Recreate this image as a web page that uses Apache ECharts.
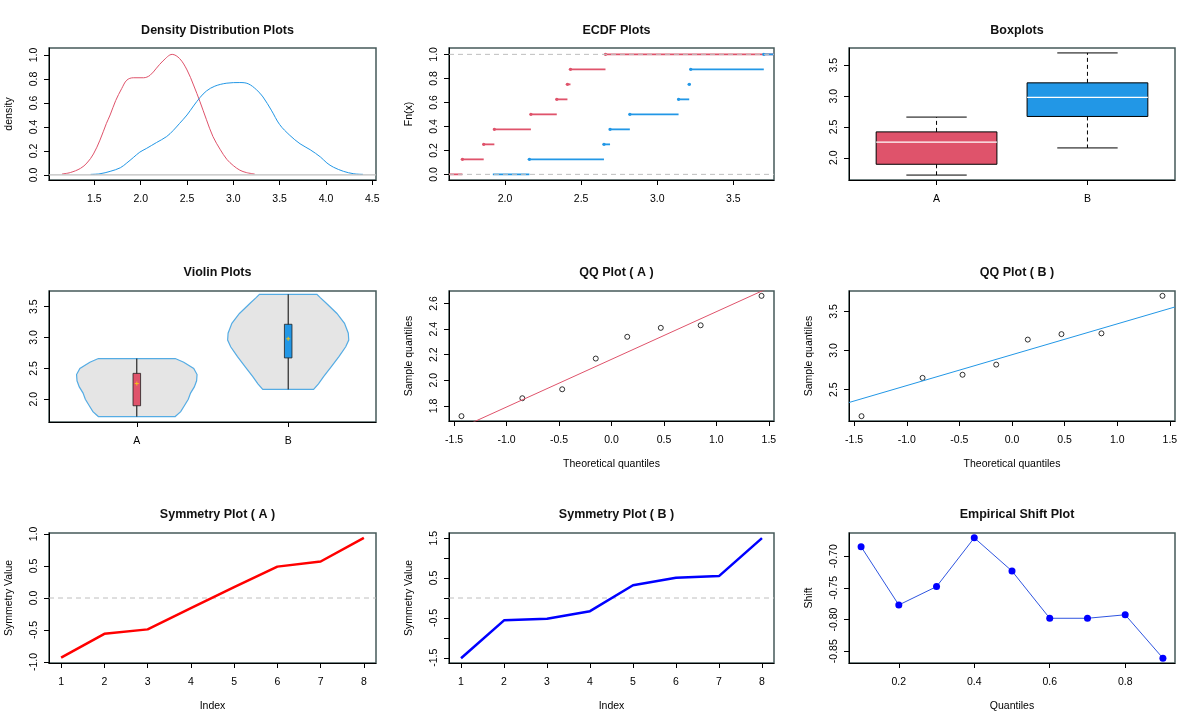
<!DOCTYPE html>
<html>
<head>
<meta charset="utf-8">
<title>Distribution plots A vs B</title>
<script src="https://cdn.jsdelivr.net/npm/echarts@6.0.0/dist/echarts.min.js"></script>
<style>
  html, body { margin: 0; padding: 0; background: #fff; }
  #main { width: 1200px; height: 725px; }
</style>
</head>
<body>
<div id="main"></div>
<script>
const sampleA = [1.72, 1.86, 1.93, 2.17, 2.34, 2.41, 2.43, 2.66];
const sampleB = [2.16, 2.65, 2.69, 2.82, 3.14, 3.21, 3.22, 3.70];
const groupNames = ['A', 'B'];

// density curves (x, y)
const densAx = [1.15, 1.24, 1.35, 1.42, 1.49, 1.56, 1.63, 1.67, 1.73, 1.795, 1.85, 1.92, 2.03, 2.1, 2.17, 2.24, 2.34, 2.42, 2.5, 2.57, 2.64, 2.71, 2.78, 2.86, 2.93, 3.0, 3.07, 3.14, 3.23];
const densAy = [0.008, 0.02, 0.055, 0.1, 0.175, 0.29, 0.43, 0.5, 0.62, 0.72, 0.79, 0.81, 0.81, 0.83, 0.89, 0.95, 1.005, 0.97, 0.875, 0.75, 0.61, 0.46, 0.32, 0.21, 0.13, 0.078, 0.04, 0.02, 0.008];
const densBx = [1.46, 1.56, 1.67, 1.78, 1.85, 1.92, 1.99, 2.06, 2.17, 2.28, 2.35, 2.42, 2.5, 2.57, 2.64, 2.71, 2.8, 2.93, 3.07, 3.16, 3.25, 3.32, 3.41, 3.5, 3.61, 3.72, 3.83, 3.94, 4.01, 4.08, 4.19, 4.3, 4.4];
const densBy = [0.005, 0.01, 0.03, 0.06, 0.1, 0.145, 0.19, 0.22, 0.27, 0.32, 0.37, 0.43, 0.5, 0.575, 0.645, 0.7, 0.74, 0.765, 0.77, 0.76, 0.71, 0.65, 0.54, 0.42, 0.33, 0.26, 0.21, 0.15, 0.1, 0.065, 0.03, 0.01, 0.005];

// ECDF: start of the blue zero-level segment
const ecdfBZeroStart = 1.92;

// boxplot stats: min, Q1, median, Q3, max
const boxA = [1.72, 1.895, 2.255, 2.42, 2.66];
const boxB = [2.16, 2.67, 2.98, 3.215, 3.70];

// violin outlines: y levels and half widths
const violinAy = [1.72, 1.80, 1.90, 2.00, 2.10, 2.20, 2.30, 2.40, 2.50, 2.60, 2.66];
const violinAw = [0.254, 0.29, 0.315, 0.34, 0.355, 0.38, 0.395, 0.398, 0.376, 0.31, 0.254];
const violinBy = [2.16, 2.25, 2.37, 2.53, 2.69, 2.85, 2.96, 3.07, 3.23, 3.39, 3.56, 3.65, 3.70];
const violinBw = [0.168, 0.20, 0.235, 0.285, 0.335, 0.38, 0.40, 0.397, 0.372, 0.322, 0.25, 0.21, 0.19];

// QQ plots
const qqTheo = [-1.43, -0.85, -0.47, -0.15, 0.15, 0.47, 0.85, 1.43];
const qqLineA = [[-1.549, 1.587], [1.549, 2.741]];
const qqLineB = [[-1.549, 2.335], [1.549, 3.558]];

// symmetry plots
const symIndex = [1, 2, 3, 4, 5, 6, 7, 8];
const symA = [-0.93, -0.56, -0.49, -0.16, 0.17, 0.49, 0.57, 0.94];
const symB = [-1.51, -0.56, -0.52, -0.33, 0.32, 0.51, 0.55, 1.50];

// empirical shift
const shiftQ = [0.1, 0.2, 0.3, 0.4, 0.5, 0.6, 0.7, 0.8, 0.9];
const shiftV = [-0.685, -0.777, -0.748, -0.671, -0.7235, -0.798, -0.798, -0.7925, -0.861];

// tick labels
const ticksDensX = [1.5, 2.0, 2.5, 3.0, 3.5, 4.0, 4.5];
const ticksProb = [0, 0.2, 0.4, 0.6, 0.8, 1.0];
const ticksEcdfX = [2.0, 2.5, 3.0, 3.5];
const ticksGroupY = [2.0, 2.5, 3.0, 3.5];
const ticksTheo = [-1.5, -1.0, -0.5, 0, 0.5, 1.0, 1.5];
const ticksQqAy = [1.8, 2.0, 2.2, 2.4, 2.6];
const ticksQqBy = [2.5, 3.0, 3.5];
const ticksSymAy = [-1.0, -0.5, 0, 0.5, 1.0];
const ticksSymBy = [-1.5, -1.0, -0.5, 0, 0.5, 1.0, 1.5];
const labelsSymBy = [-1.5, -0.5, 0.5, 1.5];
const ticksShiftX = [0.2, 0.4, 0.6, 0.8];
const ticksShiftY = [-0.85, -0.80, -0.75, -0.70];

const RED = '#DF536B';
const BLUE = '#2297E6';
const FONT = '"Liberation Sans", Arial, sans-serif';

const zip = (xs, ys) => xs.map((x, i) => [x, ys[i]]);
const f1 = v => v.toFixed(1);
const f2 = v => v.toFixed(2);

const grids = [
  [49, 48, 327, 132], [449, 48, 325, 132], [849, 48, 326, 132],
  [49, 291, 327, 131], [449, 291, 325, 130], [849, 291, 326, 130],
  [49, 533, 327, 130], [449, 533, 325, 130], [849, 533, 326, 130]
];
const titles = ['Density Distribution Plots', 'ECDF Plots', 'Boxplots',
  'Violin Plots', 'QQ Plot ( A )', 'QQ Plot ( B )',
  'Symmetry Plot ( A )', 'Symmetry Plot ( B )', 'Empirical Shift Plot'];
const titleTops = [19, 261, 503];

function xAxisOf(i, min, max, ticks, fmt, name, labels) {
  return {
    type: 'value', gridIndex: i, min: min, max: max,
    name: name || '', nameLocation: 'middle', nameGap: 38,
    nameTextStyle: { fontFamily: FONT, fontSize: 10.5, color: '#000' },
    axisLine: { show: true, onZero: false, lineStyle: { color: '#000', width: 1 } },
    axisTick: { show: true, length: 5, customValues: ticks, lineStyle: { color: '#000' } },
    axisLabel: { customValues: labels || ticks, formatter: fmt, margin: 14,
      fontFamily: FONT, fontSize: 10.5, color: '#000' },
    splitLine: { show: false }
  };
}

function yAxisOf(i, min, max, ticks, fmt, name, labels) {
  return {
    type: 'value', gridIndex: i, min: min, max: max,
    name: name || '', nameLocation: 'middle', nameGap: 34, nameRotate: 90,
    nameTextStyle: { fontFamily: FONT, fontSize: 10.5, color: '#000' },
    axisLine: { show: true, onZero: false, lineStyle: { color: '#000', width: 1 } },
    axisTick: { show: true, length: 5, customValues: ticks, lineStyle: { color: '#000' } },
    axisLabel: { customValues: labels || ticks, formatter: fmt, rotate: 90, margin: 9,
      fontFamily: FONT, fontSize: 10.5, color: '#000' },
    splitLine: { show: false }
  };
}

// ECDF segments: [x0, x1, level, showPoint]
function ecdfSegments(s, zeroStart, xMax) {
  const n = s.length;
  const segs = [[zeroStart, s[0], 0, 0]];
  for (let i = 0; i < n; i++) {
    segs.push([s[i], i < n - 1 ? s[i + 1] : xMax, (i + 1) / n, 1]);
  }
  return segs;
}

function ecdfRender(color) {
  return function (params, api) {
    const y = api.value(2);
    const p0 = api.coord([api.value(0), y]);
    const p1 = api.coord([api.value(1), y]);
    const kids = [{ type: 'line', shape: { x1: p0[0], y1: p0[1], x2: p1[0], y2: p1[1] },
      style: { stroke: color, lineWidth: 1.8 } }];
    if (api.value(3)) {
      kids.push({ type: 'circle', shape: { cx: p0[0], cy: p0[1], r: 1.7 }, style: { fill: color } });
    }
    return { type: 'group', children: kids };
  };
}

const boxColors = [RED, BLUE];
function boxRender(params, api) {
  const x = api.value(0);
  const v = [1, 2, 3, 4, 5].map(k => api.value(k));
  const tl = api.coord([x - 0.4, v[3]]);
  const br = api.coord([x + 0.4, v[1]]);
  const ln = (a, b, st) => ({ type: 'line', shape: { x1: a[0], y1: a[1], x2: b[0], y2: b[1] }, style: st });
  const solid = { stroke: '#000', lineWidth: 1 };
  const dash = { stroke: '#000', lineWidth: 1, lineDash: [4, 3] };
  return { type: 'group', children: [
    ln(api.coord([x, v[3]]), api.coord([x, v[4]]), dash),
    ln(api.coord([x, v[1]]), api.coord([x, v[0]]), dash),
    ln(api.coord([x - 0.2, v[4]]), api.coord([x + 0.2, v[4]]), solid),
    ln(api.coord([x - 0.2, v[0]]), api.coord([x + 0.2, v[0]]), solid),
    { type: 'rect', shape: { x: tl[0], y: tl[1], width: br[0] - tl[0], height: br[1] - tl[1] },
      style: { fill: boxColors[params.dataIndex], stroke: '#000', lineWidth: 1 } },
    ln(api.coord([x - 0.4, v[2]]), api.coord([x + 0.4, v[2]]), { stroke: '#fff', lineWidth: 1.2 })
  ] };
}

const violinShapes = [[violinAy, violinAw], [violinBy, violinBw]];
const violinStats = [boxA, boxB];
function violinRender(params, api) {
  const c = api.value(0);
  const idx = params.dataIndex;
  const ys = violinShapes[idx][0], ws = violinShapes[idx][1];
  const pts = [];
  for (let k = 0; k < ys.length; k++) pts.push(api.coord([c + ws[k], ys[k]]));
  for (let k = ys.length - 1; k >= 0; k--) pts.push(api.coord([c - ws[k], ys[k]]));
  const st = violinStats[idx];
  const tl = api.coord([c - 0.025, st[3]]);
  const br = api.coord([c + 0.025, st[1]]);
  const lo = api.coord([c, st[0]]), hi = api.coord([c, st[4]]);
  const md = api.coord([c, st[2]]);
  return { type: 'group', children: [
    { type: 'polygon', shape: { points: pts }, style: { fill: '#e5e5e5', stroke: '#55ace4', lineWidth: 1.2 } },
    { type: 'line', shape: { x1: lo[0], y1: lo[1], x2: hi[0], y2: hi[1] }, style: { stroke: '#000', lineWidth: 1 } },
    { type: 'rect', shape: { x: tl[0], y: tl[1], width: br[0] - tl[0], height: br[1] - tl[1] },
      style: { fill: boxColors[idx], stroke: '#222', lineWidth: 0.8 } },
    { type: 'line', shape: { x1: md[0] - 2, y1: md[1], x2: md[0] + 2, y2: md[1] }, style: { stroke: '#f2c21b', lineWidth: 1 } },
    { type: 'line', shape: { x1: md[0], y1: md[1] - 2, x2: md[0], y2: md[1] + 2 }, style: { stroke: '#f2c21b', lineWidth: 1 } }
  ] };
}

const groupFmt = v => groupNames[Math.round(v) - 1];
const intFmt = v => String(v);

const xAxes = [
  xAxisOf(0, 1.01, 4.54, ticksDensX, f1),
  xAxisOf(1, 1.632, 3.767, ticksEcdfX, f1),
  xAxisOf(2, 0.42, 2.58, [1, 2], groupFmt),
  xAxisOf(3, 0.42, 2.58, [1, 2], groupFmt),
  xAxisOf(4, -1.549, 1.549, ticksTheo, f1, 'Theoretical quantiles'),
  xAxisOf(5, -1.549, 1.549, ticksTheo, f1, 'Theoretical quantiles'),
  xAxisOf(6, 0.72, 8.28, symIndex, intFmt, 'Index'),
  xAxisOf(7, 0.72, 8.28, symIndex, intFmt, 'Index'),
  xAxisOf(8, 0.068, 0.932, ticksShiftX, f1, 'Quantiles')
];
const yAxes = [
  yAxisOf(0, -0.042, 1.058, ticksProb, f1, 'density'),
  yAxisOf(1, -0.047, 1.053, ticksProb, f1, 'Fn(x)'),
  yAxisOf(2, 1.64, 3.78, ticksGroupY, f1),
  yAxisOf(3, 1.632, 3.754, ticksGroupY, f1),
  yAxisOf(4, 1.682, 2.698, ticksQqAy, f1, 'Sample quantiles'),
  yAxisOf(5, 2.098, 3.762, ticksQqBy, f1, 'Sample quantiles'),
  yAxisOf(6, -1.015, 1.015, ticksSymAy, f1, 'Symmetry Value'),
  yAxisOf(7, -1.63, 1.63, ticksSymBy, f1, 'Symmetry Value', labelsSymBy),
  yAxisOf(8, -0.8686, -0.6634, ticksShiftY, f2, 'Shift')
];

const dashGray = { color: '#bebebe', width: 1, type: [5, 4] };
const on = i => ({ xAxisIndex: i, yAxisIndex: i });
const qqPoint = { color: '#fff', borderColor: '#000', borderWidth: 1 };

const series = [
  // density
  Object.assign(on(0), { type: 'line', data: zip(densAx, densAy), smooth: 0.35, symbol: 'none',
    lineStyle: { color: RED, width: 1 } }),
  Object.assign(on(0), { type: 'line', data: zip(densBx, densBy), smooth: 0.35, symbol: 'none',
    lineStyle: { color: BLUE, width: 1 } }),
  Object.assign(on(0), { type: 'line', data: [[1.01, 0], [4.54, 0]], symbol: 'none', z: 3,
    lineStyle: { color: '#bebebe', width: 1.2 } }),
  // ECDF
  Object.assign(on(1), { type: 'custom', clip: true, data: ecdfSegments(sampleA, 1.632, 3.767), renderItem: ecdfRender(RED) }),
  Object.assign(on(1), { type: 'custom', clip: true, data: ecdfSegments(sampleB, ecdfBZeroStart, 3.767), renderItem: ecdfRender(BLUE) }),
  Object.assign(on(1), { type: 'line', data: [[1.632, 0], [3.767, 0]], symbol: 'none', z: 5, lineStyle: dashGray }),
  Object.assign(on(1), { type: 'line', data: [[1.632, 1], [3.767, 1]], symbol: 'none', z: 5, lineStyle: dashGray }),
  // boxplots
  Object.assign(on(2), { type: 'custom', data: [[1].concat(boxA), [2].concat(boxB)], renderItem: boxRender }),
  // violins
  Object.assign(on(3), { type: 'custom', data: [[1], [2]], renderItem: violinRender }),
  // QQ A
  Object.assign(on(4), { type: 'line', data: qqLineA, symbol: 'none', clip: true, lineStyle: { color: RED, width: 1 } }),
  Object.assign(on(4), { type: 'scatter', data: zip(qqTheo, sampleA), symbol: 'circle', symbolSize: 5,
    itemStyle: qqPoint }),
  // QQ B
  Object.assign(on(5), { type: 'line', data: qqLineB, symbol: 'none', clip: true, lineStyle: { color: BLUE, width: 1 } }),
  Object.assign(on(5), { type: 'scatter', data: zip(qqTheo, sampleB), symbol: 'circle', symbolSize: 5,
    itemStyle: qqPoint }),
  // symmetry A
  Object.assign(on(6), { type: 'line', data: [[0.72, 0], [8.28, 0]], symbol: 'none', lineStyle: dashGray }),
  Object.assign(on(6), { type: 'line', data: zip(symIndex, symA), symbol: 'none', lineStyle: { color: '#FF0000', width: 2.5 } }),
  // symmetry B
  Object.assign(on(7), { type: 'line', data: [[0.72, 0], [8.28, 0]], symbol: 'none', lineStyle: dashGray }),
  Object.assign(on(7), { type: 'line', data: zip(symIndex, symB), symbol: 'none', lineStyle: { color: '#0000FF', width: 2.5 } }),
  // shift
  Object.assign(on(8), { type: 'line', data: zip(shiftQ, shiftV), symbol: 'circle', symbolSize: 7,
    itemStyle: { color: '#0000FF' }, lineStyle: { color: '#2f55e0', width: 1 } })
];

const option = {
  animation: false,
  backgroundColor: '#fff',
  title: titles.map((t, i) => ({
    text: t,
    left: grids[i][0] + grids[i][2] / 2,
    top: titleTops[Math.floor(i / 3)],
    textAlign: 'center',
    textStyle: { fontFamily: FONT, fontSize: 12.5, fontWeight: 'bold', color: '#111' }
  })),
  grid: grids.map(g => ({
    left: g[0], top: g[1], width: g[2], height: g[3],
    show: true, borderColor: '#46595a', borderWidth: 1.5, backgroundColor: 'transparent'
  })),
  xAxis: xAxes,
  yAxis: yAxes,
  series: series
};

const chart = echarts.init(document.getElementById('main'), null, { renderer: 'canvas' });
chart.setOption(option);
</script>
</body>
</html>
